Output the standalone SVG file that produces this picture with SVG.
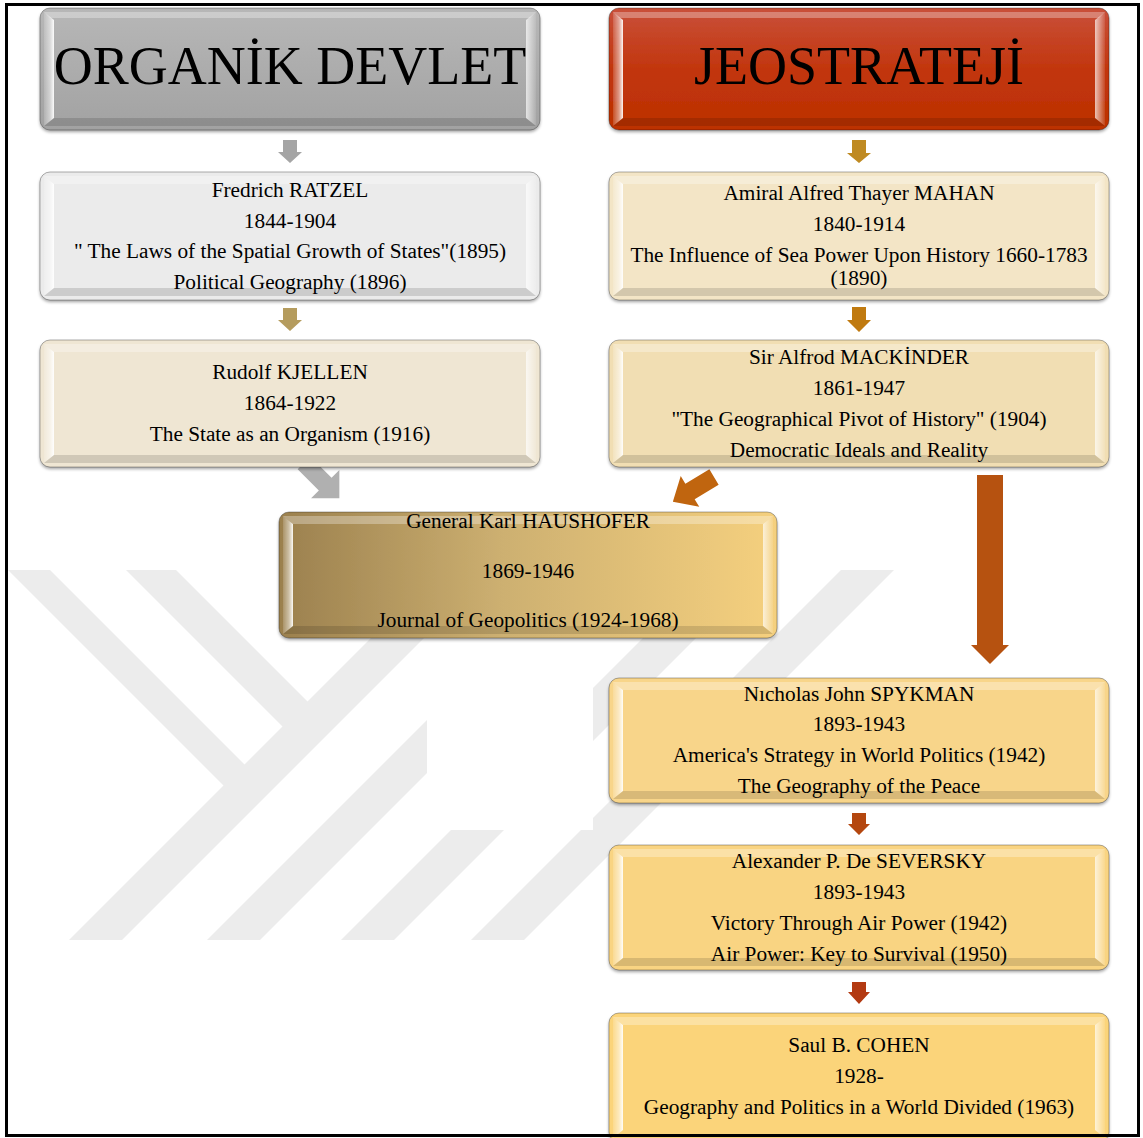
<svg xmlns="http://www.w3.org/2000/svg" width="1143" height="1138" viewBox="0 0 1143 1138">
<style>
text{font-family:"Liberation Serif","Times New Roman",serif;fill:#000;text-anchor:middle}
.hd{font-size:54px}
.t{font-size:21.3px}
.box{stroke:#000;stroke-opacity:.3;stroke-width:1;filter:url(#sh)}
.bt{fill:#fff;fill-opacity:.3}
.bl{fill:url(#gl)}
.br{fill:url(#gr)}
.bb{fill:#000;fill-opacity:.13}
.wm{fill:#ececec}
</style>
<defs>
<filter id="sh" x="-5%" y="-5%" width="110%" height="115%"><feDropShadow dx="0" dy="2" stdDeviation="1.5" flood-color="#000" flood-opacity=".35"/></filter>
<linearGradient id="gl" x1="0" y1="0" x2="1" y2="0"><stop offset="0" stop-color="#fff" stop-opacity=".15"/><stop offset=".6" stop-color="#fff" stop-opacity=".5"/><stop offset="1" stop-color="#fff" stop-opacity=".95"/></linearGradient>
<linearGradient id="gr" x1="0" y1="0" x2="1" y2="0"><stop offset="0" stop-color="#fff" stop-opacity=".7"/><stop offset="1" stop-color="#fff" stop-opacity=".1"/></linearGradient>
<linearGradient id="gGray" x1="0" y1="0" x2="0" y2="1"><stop offset="0" stop-color="#b7b7b7"/><stop offset="1" stop-color="#a2a2a2"/></linearGradient>
<linearGradient id="gRed" x1="0" y1="0" x2="0" y2="1"><stop offset="0" stop-color="#c9503a"/><stop offset=".5" stop-color="#c2360e"/><stop offset="1" stop-color="#bc3000"/></linearGradient>
<linearGradient id="gHau" x1="0" y1="0" x2="1" y2="0"><stop offset="0" stop-color="#9b804e"/><stop offset=".45" stop-color="#cdb071"/><stop offset="1" stop-color="#f5d07e"/></linearGradient>
<clipPath id="wclip"><rect x="8" y="570" width="1130" height="370"/></clipPath>
</defs>
<rect width="1143" height="1138" fill="#fff"/>

<g id="watermark" clip-path="url(#wclip)">
<polygon class="wm" points="-2,560 40,560 255,775 234,796"/>
<polygon class="wm" points="116,560 166,560 318,712 293,737"/>
<polygon class="wm" points="59,950 112,950 502,560 449,560"/>
<polygon class="wm" points="197,950 250,950 640,560 587,560"/>
<polygon class="wm" points="331,950 384,950 774,560 721,560"/>
<polygon class="wm" points="461,950 514,950 904,560 851,560"/>
<rect x="427" y="637" width="166" height="193" fill="#fff"/>
</g>

<g id="connectors">
<path fill="#a5a5a5" d="M283,140 H297 V152 H302 L290,163 L278,152 H283 Z"/>
<path fill="#bf8a22" d="M852,140 H866 V153 H871 L859,163 L847,153 H852 Z"/>
<path fill="#b59c5e" d="M283,308 H297 V320 H302 L290,331 L278,320 H283 Z"/>
<path fill="#c07a10" d="M852,307 H866 V320 H871 L859,332 L847,320 H852 Z"/>
<path fill="#b0b0b0" transform="translate(304,463) rotate(45)" d="M0,-9 H30 V-20 L50,0 L30,20 V9 H0 Z"/>
<path fill="#c0650f" transform="translate(714,477) rotate(149)" d="M0,-9 H28 V-18 L48,0 L28,18 V9 H0 Z"/>
<path fill="#b65210" d="M977,475 H1003 V645 H1009 L990,664 L971,645 H977 Z"/>
<path fill="#b4470f" d="M852,813 H866 V824 H870 L859,835 L848,824 H852 Z"/>
<path fill="#b33a12" d="M852,982 H866 V992 H870 L859,1004 L848,992 H852 Z"/>
</g>

<g id="organik">
<rect class="box" x="40" y="8" width="500" height="122" rx="10" fill="url(#gGray)"/>
<path class="bt" d="M44,12 H536 L530,18 H50 Z"/>
<path class="bl" d="M44,12 L54,20 V118 L44,126 Z"/>
<path class="br" d="M536,12 V126 L526,118 V20 Z"/>
<path class="bb" d="M44,126 L54,118 H526 L536,126 Z"/>
<text class="hd" x="290" y="84">ORGANİK DEVLET</text>
</g>

<g id="jeostrateji">
<rect class="box" x="609" y="8" width="500" height="122" rx="10" fill="url(#gRed)"/>
<path class="bt" d="M613,12 H1105 L1099,18 H619 Z"/>
<path class="bl" d="M613,12 L623,20 V118 L613,126 Z"/>
<path class="br" d="M1105,12 V126 L1095,118 V20 Z"/>
<path class="bb" d="M613,126 L623,118 H1095 L1105,126 Z"/>
<text class="hd" x="859" y="84">JEOSTRATEJİ</text>
</g>

<g id="ratzel">
<rect class="box" x="40" y="172" width="500" height="128" rx="10" fill="#ebebeb"/>
<path class="bt" d="M44,176 H536 L526,184 H54 Z"/>
<path class="bl" d="M44,176 L54,184 V288 L44,296 Z"/>
<path class="br" d="M536,176 V296 L526,288 V184 Z"/>
<path class="bb" d="M44,296 L54,288 H526 L536,296 Z"/>
<text class="t" x="290" y="197">Fredrich RATZEL</text>
<text class="t" x="290" y="228">1844-1904</text>
<text class="t" x="290" y="258">" The Laws of the Spatial Growth of States"(1895)</text>
<text class="t" x="290" y="289">Political Geography (1896)</text>
</g>

<g id="mahan">
<rect class="box" x="609" y="172" width="500" height="128" rx="10" fill="#f3e5c6"/>
<path class="bt" d="M613,176 H1105 L1095,184 H623 Z"/>
<path class="bl" d="M613,176 L623,184 V288 L613,296 Z"/>
<path class="br" d="M1105,176 V296 L1095,288 V184 Z"/>
<path class="bb" d="M613,296 L623,288 H1095 L1105,296 Z"/>
<text class="t" x="859" y="200">Amiral Alfred Thayer MAHAN</text>
<text class="t" x="859" y="231">1840-1914</text>
<text class="t" x="859" y="262">The Influence of Sea Power Upon History 1660-1783</text>
<text class="t" x="859" y="285">(1890)</text>
</g>

<g id="kjellen">
<rect class="box" x="40" y="340" width="500" height="127" rx="10" fill="#efe6d3"/>
<path class="bt" d="M44,344 H536 L526,352 H54 Z"/>
<path class="bl" d="M44,344 L54,352 V455 L44,463 Z"/>
<path class="br" d="M536,344 V463 L526,455 V352 Z"/>
<path class="bb" d="M44,463 L54,455 H526 L536,463 Z"/>
<text class="t" x="290" y="379">Rudolf KJELLEN</text>
<text class="t" x="290" y="410">1864-1922</text>
<text class="t" x="290" y="441">The State as an Organism (1916)</text>
</g>

<g id="mackinder">
<rect class="box" x="609" y="340" width="500" height="127" rx="10" fill="#f1deb3"/>
<path class="bt" d="M613,344 H1105 L1095,352 H623 Z"/>
<path class="bl" d="M613,344 L623,352 V455 L613,463 Z"/>
<path class="br" d="M1105,344 V463 L1095,455 V352 Z"/>
<path class="bb" d="M613,463 L623,455 H1095 L1105,463 Z"/>
<text class="t" x="859" y="364">Sir Alfrod MACKİNDER</text>
<text class="t" x="859" y="395">1861-1947</text>
<text class="t" x="859" y="426">"The Geographical Pivot of History" (1904)</text>
<text class="t" x="859" y="457">Democratic Ideals and Reality</text>
</g>

<g id="haushofer">
<rect class="box" x="279" y="512" width="498" height="126" rx="10" fill="url(#gHau)"/>
<path class="bt" d="M283,516 H773 L763,524 H293 Z"/>
<path class="bl" d="M283,516 L293,524 V626 L283,634 Z"/>
<path class="br" d="M773,516 V634 L763,626 V524 Z"/>
<path class="bb" d="M283,634 L293,626 H763 L773,634 Z"/>
<text class="t" x="528" y="528">General Karl HAUSHOFER</text>
<text class="t" x="528" y="578">1869-1946</text>
<text class="t" x="528" y="627">Journal of Geopolitics (1924-1968)</text>
</g>

<g id="spykman">
<rect class="box" x="609" y="678" width="500" height="125" rx="10" fill="#f8d58a"/>
<path class="bt" d="M613,682 H1105 L1095,690 H623 Z"/>
<path class="bl" d="M613,682 L623,690 V791 L613,799 Z"/>
<path class="br" d="M1105,682 V799 L1095,791 V690 Z"/>
<path class="bb" d="M613,799 L623,791 H1095 L1105,799 Z"/>
<text class="t" x="859" y="701">Nıcholas John SPYKMAN</text>
<text class="t" x="859" y="731">1893-1943</text>
<text class="t" x="859" y="762">America's Strategy in World Politics (1942)</text>
<text class="t" x="859" y="793">The Geography of the Peace</text>
</g>

<g id="seversky">
<rect class="box" x="609" y="845" width="500" height="125" rx="10" fill="#f9d482"/>
<path class="bt" d="M613,849 H1105 L1095,857 H623 Z"/>
<path class="bl" d="M613,849 L623,857 V958 L613,966 Z"/>
<path class="br" d="M1105,849 V966 L1095,958 V857 Z"/>
<path class="bb" d="M613,966 L623,958 H1095 L1105,966 Z"/>
<text class="t" x="859" y="868">Alexander P. De SEVERSKY</text>
<text class="t" x="859" y="899">1893-1943</text>
<text class="t" x="859" y="930">Victory Through Air Power (1942)</text>
<text class="t" x="859" y="961">Air Power: Key to Survival (1950)</text>
</g>

<g id="cohen">
<rect class="box" x="609" y="1013" width="500" height="129" rx="10" fill="#fbd47a"/>
<path class="bt" d="M613,1017 H1105 L1095,1025 H623 Z"/>
<path class="bl" d="M613,1017 L623,1025 V1130 L613,1138 Z"/>
<path class="br" d="M1105,1017 V1138 L1095,1130 V1025 Z"/>
<text class="t" x="859" y="1052">Saul B. COHEN</text>
<text class="t" x="859" y="1083">1928-</text>
<text class="t" x="859" y="1114">Geography and Politics in a World Divided (1963)</text>
</g>

<rect id="frame" x="6.5" y="4.5" width="1132" height="1131" fill="none" stroke="#000" stroke-width="3"/>
</svg>
